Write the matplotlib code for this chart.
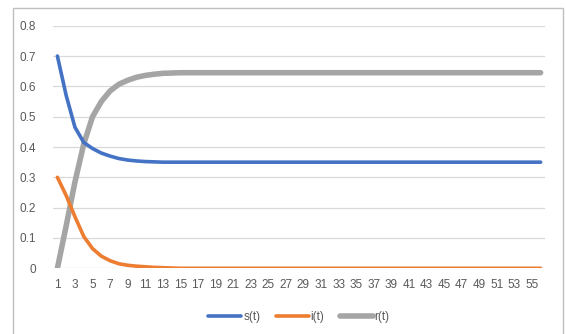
import matplotlib
matplotlib.use('Agg')
import matplotlib.pyplot as plt
from matplotlib.patches import Rectangle

# données (t = 1..56)
t = list(range(1, 57))
s_head = [0.70, 0.57, 0.465, 0.415, 0.395, 0.38, 0.37, 0.362, 0.357, 0.354, 0.352, 0.351]
i_head = [0.30, 0.24, 0.17, 0.105, 0.065, 0.04, 0.025, 0.015, 0.01, 0.007, 0.005, 0.003, 0.002, 0.001]
r_head = [0.0, 0.14, 0.285, 0.41, 0.50, 0.55, 0.585, 0.607, 0.62, 0.63, 0.636, 0.64, 0.643, 0.644]
s = s_head + [0.35] * (56 - len(s_head))
i = i_head + [0.0] * (56 - len(i_head))
r = r_head + [0.645] * (56 - len(r_head))

x_labels = [str(v) if v % 2 == 1 else '' for v in t]
y_ticks = [0, 0.1, 0.2, 0.3, 0.4, 0.5, 0.6, 0.7, 0.8]

text_color = '#595959'
grid_color = '#D9D9D9'
font = 'Liberation Sans'

fig = plt.figure(figsize=(5.66, 3.34), dpi=100)
fig.patch.set_facecolor('white')
ax = fig.add_axes([53 / 566, 0.1967, 492 / 566, 0.923 - 0.1967])

ax.plot(t, s, color='#4472C4', lw=2.6, solid_capstyle='round', solid_joinstyle='round', label='s(t)', zorder=3)
ax.plot(t, i, color='#ED7D31', lw=2.6, solid_capstyle='round', solid_joinstyle='round', label='i(t)', zorder=3)
ax.plot(t, r, color='#A5A5A5', lw=4.0, solid_capstyle='round', solid_joinstyle='round', label='r(t)', zorder=2)

ax.set_xlim(0.5, 56.5)
ax.set_ylim(0, 0.8)
ax.set_xticks(t)
ax.set_xticklabels(x_labels)
ax.set_yticks(y_ticks)
ax.set_yticklabels(['0'] + ['%.1f' % v for v in y_ticks[1:]])
ax.tick_params(length=0, labelsize=8.5, labelcolor=text_color)
for lab in ax.get_xticklabels() + ax.get_yticklabels():
    lab.set_family(font)
ax.tick_params(axis='x', pad=8)
ax.tick_params(axis='y', pad=12)
for sp in ax.spines.values():
    sp.set_visible(False)
ax.grid(axis='y', color=grid_color, lw=0.9)
ax.set_axisbelow(True)

leg = ax.legend(loc='center', bbox_to_anchor=(0.5, -0.2), ncol=3, frameon=False,
                prop={'family': font, 'size': 8.5}, handlelength=2.8,
                handletextpad=0.15, columnspacing=1.3)
for txt in leg.get_texts():
    txt.set_color(text_color)

# cadre autour du graphique
fig.patches.append(Rectangle((12.5 / 566, -0.05), 550.5 / 566, 1.05 - 8.5 / 334,
                             transform=fig.transFigure, fill=False,
                             edgecolor='#BFBFBF', lw=1, clip_on=False))

fig.savefig('out.png', dpi=100, facecolor='white')
